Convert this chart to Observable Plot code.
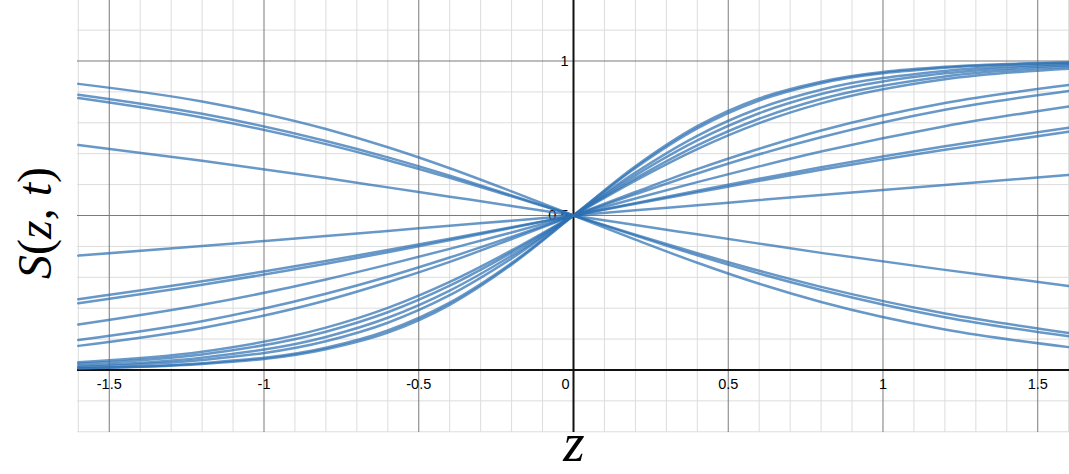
<!DOCTYPE html>
<html>
<head>
<meta charset="utf-8">
<script src="https://cdn.jsdelivr.net/npm/d3@7"></script>
<script src="https://cdn.jsdelivr.net/npm/@observablehq/plot@0.6"></script>
<style>
  html, body { margin: 0; padding: 0; background: #fff; }
  #chart svg { display: block; }
</style>
</head>
<body>
<div id="chart"></div>
<script>
// sample positions along z
const zSamples = [-1.6, -1.2, -0.8, -0.6, -0.4, -0.2, 0, 0.2, 0.4, 0.6, 0.8, 1.2, 1.6];

// S(z,t) values, one list per curve
const curveDecA = [0.728, 0.677, 0.621, 0.591, 0.561, 0.531, 0.5, 0.469, 0.439, 0.409, 0.379, 0.324, 0.272];
const curveDecB = [0.880, 0.817, 0.731, 0.679, 0.622, 0.562, 0.5, 0.438, 0.378, 0.321, 0.269, 0.183, 0.120];
const curveDecC = [0.891, 0.829, 0.741, 0.688, 0.629, 0.565, 0.5, 0.435, 0.371, 0.312, 0.259, 0.171, 0.109];
const curveDecD = [0.926, 0.869, 0.780, 0.721, 0.653, 0.578, 0.5, 0.422, 0.347, 0.279, 0.220, 0.131, 0.074];
const curveInc1 = [0.370, 0.401, 0.434, 0.450, 0.467, 0.483, 0.5, 0.517, 0.533, 0.550, 0.566, 0.599, 0.631];
const curveInc2 = [0.229, 0.287, 0.353, 0.388, 0.425, 0.462, 0.5, 0.538, 0.575, 0.612, 0.648, 0.713, 0.771];
const curveInc3 = [0.216, 0.276, 0.344, 0.381, 0.420, 0.460, 0.5, 0.540, 0.580, 0.619, 0.656, 0.724, 0.784];
const curveInc4 = [0.147, 0.211, 0.293, 0.341, 0.392, 0.445, 0.5, 0.555, 0.608, 0.659, 0.707, 0.789, 0.853];
const curveInc5 = [0.097, 0.158, 0.247, 0.302, 0.364, 0.431, 0.5, 0.569, 0.636, 0.698, 0.753, 0.842, 0.903];
const curveInc6 = [0.078, 0.136, 0.225, 0.284, 0.350, 0.424, 0.5, 0.576, 0.650, 0.716, 0.775, 0.864, 0.922];
const curveSteep1 = [0.005, 0.019, 0.067, 0.121, 0.211, 0.341, 0.5, 0.659, 0.789, 0.879, 0.933, 0.981, 0.995];
const curveSteep2 = [0.006, 0.022, 0.072, 0.128, 0.218, 0.346, 0.5, 0.654, 0.782, 0.872, 0.928, 0.978, 0.994];
const curveSteep3 = [0.010, 0.032, 0.093, 0.153, 0.242, 0.361, 0.5, 0.639, 0.758, 0.847, 0.907, 0.968, 0.990];
const curveSteep4 = [0.014, 0.040, 0.107, 0.169, 0.257, 0.370, 0.5, 0.630, 0.743, 0.831, 0.893, 0.960, 0.986];
const curveSteep5 = [0.020, 0.050, 0.124, 0.187, 0.273, 0.380, 0.5, 0.620, 0.727, 0.813, 0.877, 0.950, 0.981];
const curveSteep6 = [0.025, 0.059, 0.137, 0.201, 0.285, 0.387, 0.5, 0.613, 0.715, 0.799, 0.863, 0.941, 0.975];

// grid and tick values
const xMinorGrid = [-1.6,-1.4,-1.3,-1.2,-1.1,-0.9,-0.8,-0.7,-0.6,-0.4,-0.3,-0.2,-0.1,0.1,0.2,0.3,0.4,0.6,0.7,0.8,0.9,1.1,1.2,1.3,1.4,1.6];
const xMajorGrid = [-1.5, -1, -0.5, 0.5, 1, 1.5];
const yMinorGrid = [-0.2, -0.1, 0.1, 0.2, 0.3, 0.4, 0.6, 0.7, 0.8, 0.9, 1.1];
const yMajorGrid = [0.5, 1];
const xTickValues = [-1.5, -1, -0.5, 0.5, 1, 1.5];
const xTickLabels = ["-1.5", "-1", "-0.5", "0.5", "1", "1.5"];
const yTickValues = [0.5, 1];
const yTickLabels = ["0.5", "1"];
const originLabel = ["0"];

const allCurves = [curveDecA, curveDecB, curveDecC, curveDecD,
  curveInc1, curveInc2, curveInc3, curveInc4, curveInc5, curveInc6,
  curveSteep1, curveSteep2, curveSteep3, curveSteep4, curveSteep5, curveSteep6];

const table = allCurves.flatMap((vals, id) => vals.map((s, i) => ({id, z: zSamples[i], s})));

const labelFont = "'Liberation Sans', Arial, sans-serif";

const plot = Plot.plot({
  width: 1069,
  height: 474,
  marginLeft: 77,
  marginRight: 0,
  marginTop: 0,
  marginBottom: 42,
  style: {background: "#fff", fontFamily: labelFont, fontSize: "14px", color: "#000"},
  x: {domain: [-1.6026, 1.6026], axis: null},
  y: {domain: [-0.2023, 1.1958], axis: null},
  marks: [
    Plot.ruleX(xMinorGrid, {stroke: "#dcdcdc", strokeWidth: 1}),
    Plot.ruleY(yMinorGrid, {stroke: "#dcdcdc", strokeWidth: 1}),
    Plot.ruleX(xMajorGrid, {stroke: "#7a7a7a", strokeWidth: 1}),
    Plot.ruleY(yMajorGrid, {stroke: "#7a7a7a", strokeWidth: 1}),
    Plot.ruleY([0], {stroke: "#111", strokeWidth: 2}),
    Plot.ruleX([0], {stroke: "#111", strokeWidth: 2}),
    Plot.text(xTickValues, {x: d => d, y: 0, dy: 14, text: (d, i) => xTickLabels[i], textAnchor: "middle", fill: "#000", fontSize: 14.5, fontFamily: labelFont}),
    Plot.text(originLabel, {x: 0, y: 0, dx: -8, dy: 14, text: d => d, textAnchor: "middle", fill: "#000", fontSize: 14.5, fontFamily: labelFont}),
    Plot.text(yTickValues, {x: 0, y: d => d, dx: -5, text: (d, i) => yTickLabels[i], textAnchor: "end", fill: "#000", fontSize: 14.5, fontFamily: labelFont}),
    Plot.line(table, {x: "z", y: "s", z: "id", stroke: "#2d70b3", strokeOpacity: 0.72, strokeWidth: 2.5, curve: "monotone-x"})
  ]
});

document.getElementById("chart").appendChild(plot);

// axis titles (rich text, LaTeX-like)
const svg = d3.select(plot);
const serif = "'Liberation Serif', 'DejaVu Serif', serif";
const yTitle = svg.append("text")
  .attr("transform", "translate(51,223) rotate(-90)")
  .attr("text-anchor", "middle")
  .style("font-family", serif)
  .style("font-size", "48px")
  .attr("fill", "#000");
yTitle.append("tspan").style("font-style", "italic").text("S");
yTitle.append("tspan").text("(");
yTitle.append("tspan").style("font-style", "italic").text("z");
yTitle.append("tspan").text(", ");
yTitle.append("tspan").style("font-style", "italic").text("t");
yTitle.append("tspan").text(")");

svg.append("text")
  .attr("x", 574)
  .attr("y", 461)
  .attr("text-anchor", "middle")
  .style("font-family", serif)
  .style("font-size", "55px")
  .style("font-style", "italic")
  .attr("fill", "#000")
  .text("z");
</script>
</body>
</html>
